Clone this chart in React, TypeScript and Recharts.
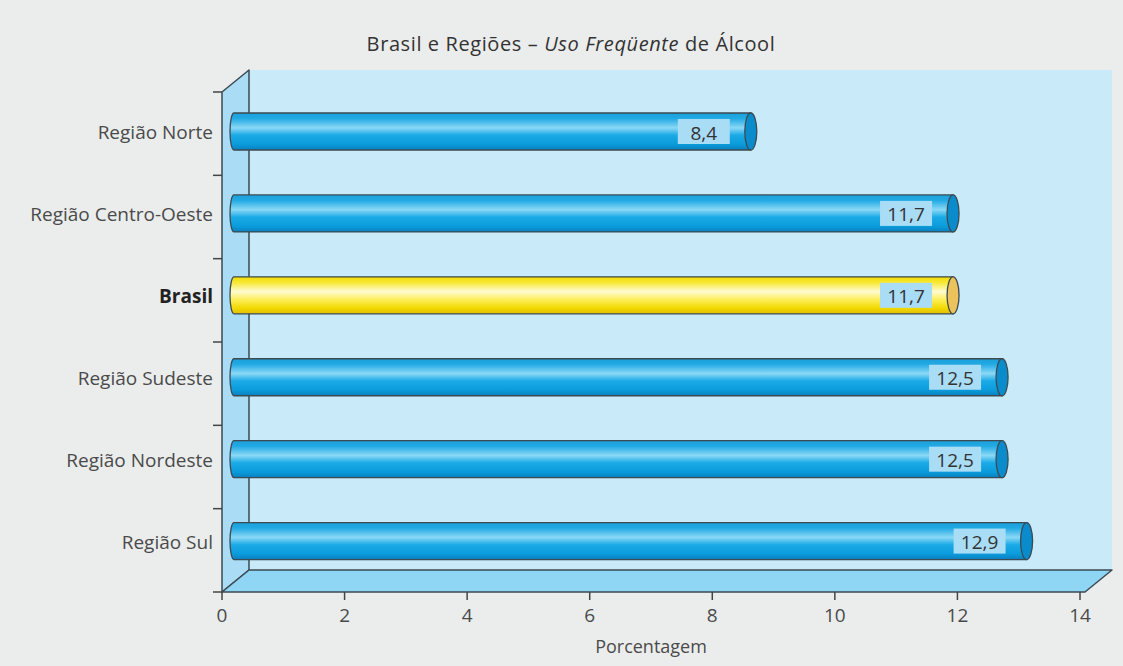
import React from "react";
import { Bar, BarChart, LabelList, XAxis, YAxis } from "recharts";

const categories = [
  "Região Norte",
  "Região Centro-Oeste",
  "Brasil",
  "Região Sudeste",
  "Região Nordeste",
  "Região Sul",
];
const values = [8.4, 11.7, 11.7, 12.5, 12.5, 12.9];
const xTicks = [0, 2, 4, 6, 8, 10, 12, 14];
const highlighted = "Brasil";

const data = categories.map((name, i) => ({ name, value: values[i] }));

const W = 1123;
const H = 666;
const LEFT = 222;
const RIGHT = 1080;
// front plane of the 3D box
const FRONT_TOP = 92;
const FRONT_BOTTOM = 592;
// bars sit slightly back in depth, so their band range is a bit shorter
const BAR_TOP = 91;
const BAR_BOTTOM = 582.5;
const DX = 27;
const DY = 22;
const FONT = "'Open Sans', sans-serif";
const FRONT_BAND = (FRONT_BOTTOM - FRONT_TOP) / categories.length;
const SHIFT = 14;
const EDGE = "#3d4a52";

function Cylinder(props: any) {
  const { x, y, width, height, payload } = props;
  const yellow = payload && payload.name === highlighted;
  const xl = x + 8;
  const xr = x + width + SHIFT;
  const rxL = 4;
  const top = y;
  const bot = y + height;
  const mid = y + height / 2;
  const d = `M${xl + rxL},${top} L${xr},${top} L${xr},${bot} L${xl + rxL},${bot} A${rxL},${height / 2} 0 0 1 ${xl + rxL},${top} Z`;
  return (
    <g>
      <path d={d} fill={yellow ? "url(#gradYellow)" : "url(#gradBlue)"} stroke={EDGE} strokeWidth={1.3} />
      <ellipse cx={xr} cy={mid} rx={6} ry={height / 2} fill={yellow ? "#ecc25c" : "#0a8ccc"} stroke={EDGE} strokeWidth={1.3} />
    </g>
  );
}

function ValueLabel(props: any) {
  const { x, y, width, height, value } = props;
  const xr = x + width + SHIFT;
  const mid = y + height / 2;
  const bw = 52;
  const bx = xr - 21 - bw;
  return (
    <g>
      <rect x={bx} y={mid - 12.5} width={bw} height={25} fill="#a9dcf5" />
      <text x={bx + bw / 2} y={mid + 1} textAnchor="middle" dominantBaseline="central" fontFamily={FONT} fontSize={19} fill="#333">
        {Number(value).toFixed(1).replace(".", ",")}
      </text>
    </g>
  );
}

function CategoryTick(props: any) {
  const { x, y, payload, index } = props;
  const bold = payload.value === highlighted;
  const last = index === categories.length - 1;
  const t0 = FRONT_TOP + index * FRONT_BAND;
  return (
    <g>
      <line x1={LEFT - 9} x2={LEFT} y1={t0} y2={t0} stroke="#444" strokeWidth={1.5} />
      {last && <line x1={LEFT - 9} x2={LEFT} y1={FRONT_BOTTOM} y2={FRONT_BOTTOM} stroke="#444" strokeWidth={1.5} />}
      <text x={x} y={y} textAnchor="end" dominantBaseline="central" fontFamily={FONT} fontSize={19}
        fontWeight={bold ? 700 : 400} fill={bold ? "#222" : "#4a4a4a"}>
        {payload.value}
      </text>
    </g>
  );
}

function NumberTick(props: any) {
  const { x, payload } = props;
  return (
    <g>
      <line x1={x} x2={x} y1={FRONT_BOTTOM} y2={FRONT_BOTTOM + 8} stroke="#444" strokeWidth={1.5} />
      <text x={x} y={FRONT_BOTTOM + 23} textAnchor="middle" dominantBaseline="central" fontFamily={FONT} fontSize={19} fill="#4a4a4a">
        {payload.value}
      </text>
    </g>
  );
}

export default function App() {
  return (
    <div style={{ position: "absolute", left: 0, top: 0, width: W, height: H, background: "#ebeded" }}>
      <svg width={W} height={H} style={{ position: "absolute", left: 0, top: 0 }}>
        <text x={571} y={43} textAnchor="middle" dominantBaseline="central" fontFamily={FONT} fontSize={20} letterSpacing={0.6} fill="#333">
          Brasil e Regiões – <tspan fontStyle="italic">Uso Freqüente</tspan> de Álcool
        </text>
        {/* back wall */}
        <rect x={LEFT + DX} y={FRONT_TOP - DY} width={RIGHT + 5 - LEFT} height={FRONT_BOTTOM - FRONT_TOP} fill="#c9eaf8" />
        {/* left wall */}
        <polygon
          points={`${LEFT},${FRONT_TOP} ${LEFT + DX},${FRONT_TOP - DY} ${LEFT + DX},${FRONT_BOTTOM - DY} ${LEFT},${FRONT_BOTTOM}`}
          fill="#aadcf5" stroke={EDGE} strokeWidth={1.5} strokeLinejoin="round"
        />
        {/* floor */}
        <polygon
          points={`${LEFT},${FRONT_BOTTOM} ${LEFT + DX},${FRONT_BOTTOM - DY} ${RIGHT + 5 + DX},${FRONT_BOTTOM - DY} ${RIGHT + 5},${FRONT_BOTTOM}`}
          fill="#8fd5f4" stroke={EDGE} strokeWidth={1.5} strokeLinejoin="round"
        />
      </svg>
      <div style={{ position: "absolute", left: 0, top: 0 }}>
        <BarChart
          width={W}
          height={H}
          data={data}
          layout="vertical"
          barSize={37}
          margin={{ top: BAR_TOP, right: W - RIGHT, left: 22, bottom: H - BAR_BOTTOM - 72 }}
        >
          <defs>
            <linearGradient id="gradBlue" x1="0" y1="0" x2="0" y2="1">
              <stop offset="0" stopColor="#1a9fd9" />
              <stop offset="0.15" stopColor="#22aae4" />
              <stop offset="0.4" stopColor="#8ad8f6" />
              <stop offset="0.6" stopColor="#1aaae6" />
              <stop offset="0.85" stopColor="#0a9bdb" />
              <stop offset="1" stopColor="#0a7fbd" />
            </linearGradient>
            <linearGradient id="gradYellow" x1="0" y1="0" x2="0" y2="1">
              <stop offset="0" stopColor="#f2dc00" />
              <stop offset="0.15" stopColor="#f8e833" />
              <stop offset="0.4" stopColor="#fffbd2" />
              <stop offset="0.6" stopColor="#fdf060" />
              <stop offset="0.85" stopColor="#f2d800" />
              <stop offset="1" stopColor="#e2bf00" />
            </linearGradient>
          </defs>
          <XAxis
            type="number"
            domain={[0, 14]}
            ticks={xTicks}
            interval={0}
            height={72}
            axisLine={false}
            tickLine={false}
            tick={<NumberTick />}
            label={{ value: "Porcentagem", position: "insideBottom", offset: 1.5, fill: "#4a4a4a", fontSize: 18, fontFamily: FONT }}
          />
          <YAxis
            type="category"
            dataKey="name"
            width={200}
            axisLine={false}
            tickLine={false}
            tickSize={9}
            tickMargin={0}
            tick={<CategoryTick />}
          />
          <Bar dataKey="value" shape={<Cylinder />} isAnimationActive={false}>
            <LabelList dataKey="value" content={<ValueLabel />} />
          </Bar>
        </BarChart>
      </div>
    </div>
  );
}
